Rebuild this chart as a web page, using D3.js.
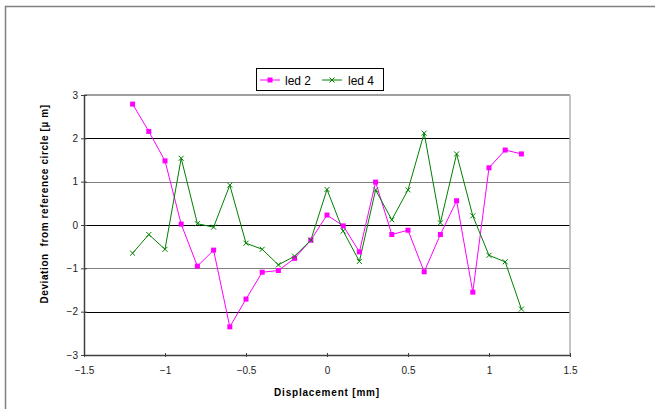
<!DOCTYPE html>
<html>
<head>
<meta charset="utf-8">
<script src="https://cdn.jsdelivr.net/npm/d3@7"></script>
<style>
  body { margin: 0; background: #fff; }
  text { font-family: "Liberation Sans", Arial, sans-serif; }
</style>
</head>
<body>
<svg class="chart"></svg>
<script>
// displacement positions (mm) and deviation values (um)
var displacement = [-1.2,-1.1,-1.0,-0.9,-0.8,-0.7,-0.6,-0.5,-0.4,-0.3,-0.2,-0.1,0,
                    0.1,0.2,0.3,0.4,0.5,0.6,0.7,0.8,0.9,1.0,1.1,1.2];
var led2 = [2.79,2.16,1.48,0.02,-0.95,-0.58,-2.35,-1.71,-1.09,-1.05,-0.77,-0.35,0.23,
            -0.02,-0.62,0.99,-0.22,-0.12,-1.08,-0.22,0.56,-1.55,1.32,1.73,1.64];
var led4 = [-0.65,-0.22,-0.56,1.54,0.03,-0.05,0.92,-0.42,-0.56,-0.92,-0.72,-0.35,0.82,
            -0.14,-0.84,0.81,0.12,0.81,2.12,0.05,1.64,0.21,-0.70,-0.85,-1.94];
var xTicks = [-1.5,-1,-0.5,0,0.5,1,1.5];
var yTicks = [-3,-2,-1,0,1,2,3];

var width = 655;
var height = 409;

var chart = d3.select(".chart").attr("width", width).attr("height", height);

// outer chart frame (runs off the right and bottom edge)
chart.append("rect")
  .attr("x", 5.5).attr("y", 6.5)
  .attr("width", 700).attr("height", 450)
  .attr("fill", "none").attr("stroke", "#808080").attr("stroke-width", 1.5);

var x = d3.scaleLinear().domain([-1.5, 1.5]).range([84, 570]);
var y = d3.scaleLinear().domain([-3, 3]).range([355, 95]);

// grid lines - even ones come out black, odd ones gray in the original
chart.append("g").selectAll("line")
  .data(yTicks.filter(function(d){ return d > -3 && d < 3; }))
  .enter().append("line")
  .attr("x1", x(-1.5)).attr("x2", x(1.5))
  .attr("y1", function(d){ return Math.round(y(d)) + 0.5; })
  .attr("y2", function(d){ return Math.round(y(d)) + 0.5; })
  .attr("stroke", function(d){ return d % 2 == 0 ? "#000" : "#808080"; })
  .attr("stroke-width", 1.2);

// top and right border of plot area
chart.append("line")
  .attr("x1", x(-1.5)).attr("x2", x(1.5))
  .attr("y1", y(3)).attr("y2", y(3))
  .attr("stroke", "#808080").attr("stroke-width", 1.5);
chart.append("line")
  .attr("x1", x(1.5)).attr("x2", x(1.5))
  .attr("y1", y(3)).attr("y2", y(-3))
  .attr("stroke", "#b0b0b0").attr("stroke-width", 1.5);

var x_axis = d3.axisBottom(x).tickValues(xTicks).tickSizeInner(3).tickSizeOuter(0)
  .tickPadding(9).tickFormat(d3.format("~g"));
var y_axis = d3.axisLeft(y).tickValues(yTicks).tickSizeInner(3).tickSizeOuter(0)
  .tickPadding(3).tickFormat(d3.format("~g"));

var gx = chart.append("g").attr("transform", "translate(0," + y(-3) + ")").call(x_axis);
var gy = chart.append("g").attr("transform", "translate(" + x(-1.5) + ",0)").call(y_axis);

[gx, gy].forEach(function(g){
  g.select(".domain").attr("stroke", "#404040").attr("stroke-width", 1.5);
  g.selectAll(".tick line").attr("stroke", "#404040");
  g.selectAll(".tick text").attr("font-size", 10).attr("fill", "#222")
    .style("font-family", "'Liberation Sans', Arial, sans-serif");
});
// ticks cross the axis line
gy.selectAll(".tick line").attr("x1", 3);
gx.selectAll(".tick line").attr("y1", -2).attr("y2", 2);

var line = d3.line()
  .x(function(d, i){ return x(displacement[i]); })
  .y(function(d){ return y(d); });

chart.append("path").datum(led2)
  .attr("d", line).attr("fill", "none")
  .attr("stroke", "#ff00ff").attr("stroke-width", 1);

chart.append("path").datum(led4)
  .attr("d", line).attr("fill", "none")
  .attr("stroke", "#008000").attr("stroke-width", 1);

chart.append("g").selectAll("rect")
  .data(led2).enter().append("rect")
  .attr("x", function(d, i){ return x(displacement[i]) - 2.5; })
  .attr("y", function(d){ return y(d) - 2.5; })
  .attr("width", 5).attr("height", 5)
  .attr("fill", "#ff00ff");

function xMark(g, cx, cy) {
  g.append("path")
    .attr("d", "M" + (cx-2.5) + "," + (cy-2.5) + "L" + (cx+2.5) + "," + (cy+2.5) +
               "M" + (cx-2.5) + "," + (cy+2.5) + "L" + (cx+2.5) + "," + (cy-2.5))
    .attr("stroke", "#008000").attr("stroke-width", 1).attr("fill", "none");
}
var marks = chart.append("g");
led4.forEach(function(d, i){ xMark(marks, x(displacement[i]), y(d)); });

// legend
var lg = chart.append("g");
lg.append("rect")
  .attr("x", 256.5).attr("y", 68.5).attr("width", 127).attr("height", 22)
  .attr("fill", "#fff").attr("stroke", "#000").attr("stroke-width", 1);
lg.append("line").attr("x1", 260).attr("x2", 280).attr("y1", 80).attr("y2", 80)
  .attr("stroke", "#ff00ff");
lg.append("rect").attr("x", 267.5).attr("y", 77.5).attr("width", 5).attr("height", 5)
  .attr("fill", "#ff00ff");
lg.append("text").attr("x", 285).attr("y", 84.5).attr("font-size", 12).text("led 2");
lg.append("line").attr("x1", 322).attr("x2", 342).attr("y1", 80).attr("y2", 80)
  .attr("stroke", "#008000");
xMark(lg, 332, 80);
lg.append("text").attr("x", 348).attr("y", 84.5).attr("font-size", 12).text("led 4");

// axis titles
chart.append("text")
  .attr("x", 327).attr("y", 396)
  .attr("text-anchor", "middle")
  .attr("font-size", 10).attr("font-weight", "bold")
  .attr("letter-spacing", 0.8)
  .text("Displacement [mm]");

chart.append("text")
  .attr("transform", "translate(48,204) rotate(-90)")
  .attr("text-anchor", "middle")
  .attr("font-size", 10).attr("font-weight", "bold")
  .attr("letter-spacing", 0.6)
  .attr("xml:space", "preserve")
  .text("Deviation  from reference circle [\u00b5 m]");
</script>
</body>
</html>
